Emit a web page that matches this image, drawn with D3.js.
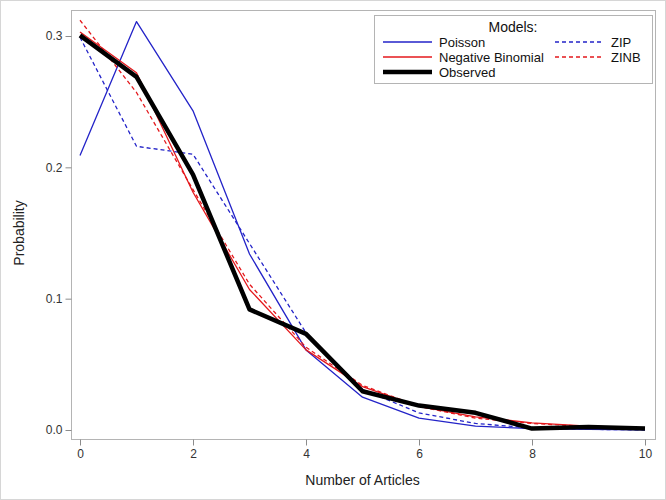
<!DOCTYPE html>
<html><head><meta charset="utf-8">
<script src="https://cdn.jsdelivr.net/npm/d3@7"></script>
<style>body{margin:0;background:#fff}svg{display:block;font-family:"Liberation Sans",Arial,sans-serif}</style>
</head><body><svg id="c" width="666" height="500"></svg>
<script>
const counts = [0,1,2,3,4,5,6,7,8,9,10];
const observed = [0.3005,0.2689,0.1945,0.0918,0.0732,0.0295,0.0186,0.0131,0.0011,0.0022,0.0011];
const poisson  = [0.209,0.311,0.243,0.134,0.061,0.025,0.009,0.003,0.001,0.0005,0.0002];
const negbin   = [0.303,0.272,0.181,0.107,0.061,0.033,0.018,0.010,0.0055,0.003,0.0016];
const zip      = [0.299,0.216,0.210,0.142,0.074,0.031,0.013,0.005,0.0015,0.0005,0.0001];
const zinb     = [0.312,0.257,0.183,0.111,0.063,0.034,0.018,0.009,0.005,0.0026,0.0013];
const yTicks = [0.0,0.1,0.2,0.3];
const xTicks = [0,2,4,6,8,10];

const series = [
  {name:"Poisson", values:poisson, color:"#2323c8", width:1.3, dash:null},
  {name:"Negative Binomial", values:negbin, color:"#e4181c", width:1.3, dash:null},
  {name:"ZIP", values:zip, color:"#2323c8", width:1.3, dash:"4,3"},
  {name:"ZINB", values:zinb, color:"#e4181c", width:1.3, dash:"4,3"},
  {name:"Observed", values:observed, color:"#000", width:4.5, dash:null}
];

const svg = d3.select("#c");
const L=71, R=655, T=10, B=439;
const x = d3.scaleLinear().domain([0,10]).range([80,645]);
const y = d3.scaleLinear().domain([0,0.3]).range([430,36]);

svg.append("rect").attr("x",0.5).attr("y",0.5).attr("width",665).attr("height",499)
  .attr("fill","none").attr("stroke","#d6d6d6");

svg.append("rect").attr("x",L+0.5).attr("y",T+0.5).attr("width",R-L).attr("height",B-T)
  .attr("fill","none").attr("stroke","#b4b4b4");

const gx = svg.append("g").attr("transform",`translate(0,${B+0.5})`)
  .call(d3.axisBottom(x).tickValues(xTicks).tickFormat(d3.format("d")).tickSize(6).tickPadding(4));
const gy = svg.append("g").attr("transform",`translate(${L+0.5},0)`)
  .call(d3.axisLeft(y).tickValues(yTicks).tickFormat(d3.format(".1f")).tickSize(6).tickPadding(3));
[gx,gy].forEach(g=>{
  g.select(".domain").remove();
  g.selectAll(".tick line").attr("stroke","#8c8c8c");
  g.selectAll(".tick text").attr("fill","#333").style("font-size","12px").style("font-family","'Liberation Sans',Arial,sans-serif");
});

svg.append("text").attr("x",(x(0)+x(10))/2).attr("y",485).attr("text-anchor","middle")
  .attr("fill","#222").style("font-size","14px").text("Number of Articles");
svg.append("text").attr("transform",`translate(24,${(y(0)+y(0.3))/2}) rotate(-90)`).attr("text-anchor","middle")
  .attr("fill","#222").style("font-size","14px").text("Probability");

const line = d3.line().x((d,i)=>x(counts[i])).y(d=>y(d));
svg.append("g").selectAll("path").data(series).join("path")
  .attr("d",d=>line(d.values)).attr("fill","none")
  .attr("stroke",d=>d.color).attr("stroke-width",d=>d.width)
  .attr("stroke-dasharray",d=>d.dash).attr("stroke-linejoin","round");

const lg = svg.append("g");
lg.append("rect").attr("x",374.5).attr("y",15.5).attr("width",278).attr("height",68)
  .attr("fill","#fff").attr("stroke","#b4b4b4");
lg.append("text").attr("x",513).attr("y",32).attr("text-anchor","middle").attr("fill","#111")
  .style("font-size","14px").text("Models:");
const legItems = [
  {s:series[0], lx:383, ly:42},
  {s:series[1], lx:383, ly:57},
  {s:series[4], lx:383, ly:72},
  {s:series[2], lx:555, ly:42},
  {s:series[3], lx:555, ly:57}
];
legItems.forEach(it=>{
  lg.append("line").attr("x1",it.lx).attr("x2",it.lx+49).attr("y1",it.ly).attr("y2",it.ly)
    .attr("stroke",it.s.color).attr("stroke-width",it.s.width).attr("stroke-dasharray",it.s.dash);
  lg.append("text").attr("x",it.lx+56).attr("y",it.ly+4.5).attr("fill","#111")
    .style("font-size","13px").text(it.s.name);
});
</script></body></html>
